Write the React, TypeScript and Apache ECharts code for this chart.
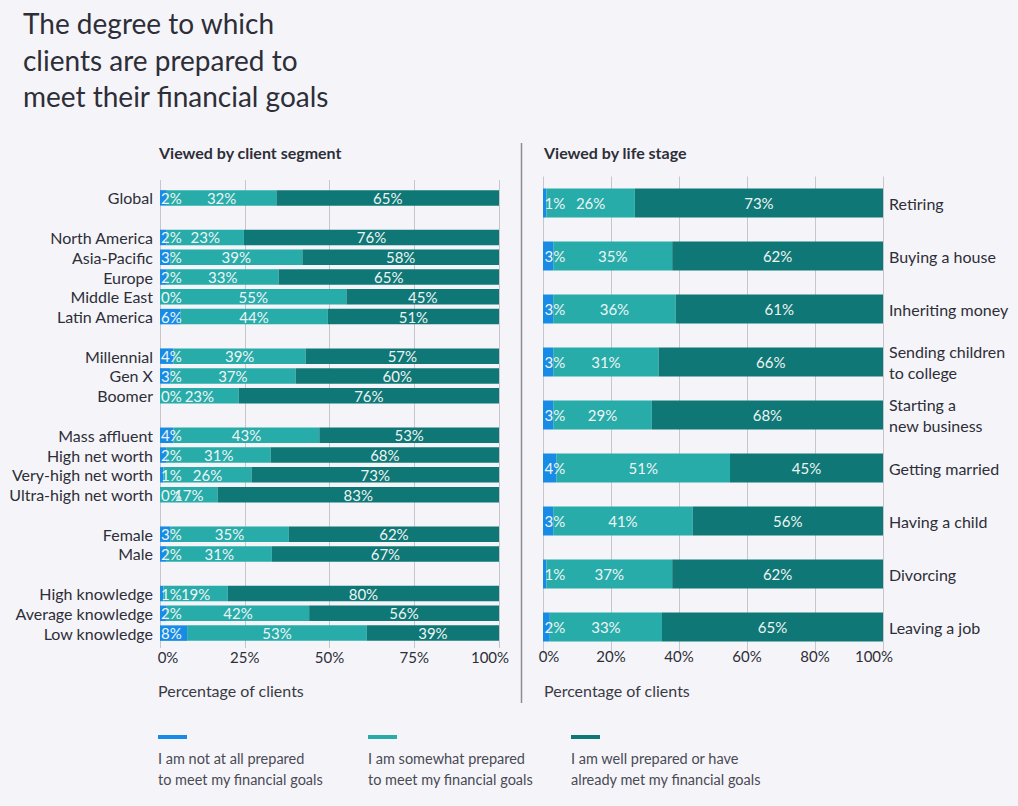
import React, { useEffect, useRef } from 'react';
import * as echarts from 'echarts';

// ---- Data ----
const segmentCategories = [
  'Global', ' ', 'North America', 'Asia-Pacific', 'Europe', 'Middle East', 'Latin America', '  ',
  'Millennial', 'Gen X', 'Boomer', '   ', 'Mass affluent', 'High net worth', 'Very-high net worth',
  'Ultra-high net worth', '    ', 'Female', 'Male', '     ', 'High knowledge', 'Average knowledge', 'Low knowledge',
];
const segmentNotPrepared = [2, null, 2, 3, 2, 0, 6, null, 4, 3, 0, null, 4, 2, 1, 0, null, 3, 2, null, 1, 2, 8];
const segmentSomewhat = [32, null, 23, 39, 33, 55, 44, null, 39, 37, 23, null, 43, 31, 26, 17, null, 35, 31, null, 19, 42, 53];
const segmentWell = [65, null, 76, 58, 65, 45, 51, null, 57, 60, 76, null, 53, 68, 73, 83, null, 62, 67, null, 80, 56, 39];

const lifeStages = [
  'Retiring', 'Buying a house', 'Inheriting money', 'Sending children\nto college', 'Starting a\nnew business',
  'Getting married', 'Having a child', 'Divorcing', 'Leaving a job',
];
const stageNotPrepared = [1, 3, 3, 3, 3, 4, 3, 1, 2];
const stageSomewhat = [26, 35, 36, 31, 29, 51, 41, 37, 33];
const stageWell = [73, 62, 61, 66, 68, 45, 56, 62, 65];

const seriesNames = [
  'I am not at all prepared\nto meet my financial goals',
  'I am somewhat prepared\nto meet my financial goals',
  'I am well prepared or have\nalready met my financial goals',
];
const colors = ['#188CE5', '#27ACAA', '#0F7775'];

const segmentTickInterval = 25;
const stageTickInterval = 20;

const FONT = 'Lato';
const DARK = '#2e2e38';
const GRID_COLOR = '#c6c6cc';

function buildStack(a: (number | null)[], b: (number | null)[], c: (number | null)[]) {
  const out: any[][] = [[], [], []];
  a.forEach((_, i) => {
    const vals = [a[i], b[i], c[i]];
    if (vals[0] == null) {
      out.forEach((o) => o.push('-'));
      return;
    }
    const total = (vals[0] as number) + (vals[1] as number) + (vals[2] as number);
    vals.forEach((v, k) => out[k].push({ value: ((v as number) / total) * 100, raw: v }));
  });
  return out;
}

const labelFormatter = (p: any) => (p.data && p.data.raw != null ? p.data.raw + '%' : '');

function makeSeries(stack: any[][], axisIdx: number, barWidth: number, stackName: string, firstDistance: number) {
  return stack.map((data, k) => ({
    type: 'bar',
    name: seriesNames[k],
    stack: stackName,
    xAxisIndex: axisIdx,
    yAxisIndex: axisIdx === 0 ? 0 : 1,
    barWidth,
    data,
    itemStyle: { color: colors[k] },
    label: {
      show: true,
      position: k === 0 ? 'insideLeft' : 'inside',
      distance: k === 0 ? firstDistance : 5,
      formatter: labelFormatter,
      color: '#eef4f4',
      fontFamily: FONT,
      fontSize: 15,
    },
    emphasis: { disabled: true },
  }));
}

function xLabel(firstPad: number, lastPad: number) {
  const base = { fontFamily: FONT, fontSize: 15, color: DARK };
  return {
    margin: 6,
    ...base,
    formatter: (v: number) => (v === 0 ? '{first|0%}' : v === 100 ? '{last|100%}' : '{n|' + v + '%}'),
    rich: {
      first: { ...base, padding: [0, 0, 0, firstPad] },
      last: { ...base, padding: [0, lastPad, 0, 0] },
      n: { ...base },
    },
  };
}

export default function App() {
  const ref = useRef<HTMLDivElement>(null);

  useEffect(() => {
    if (!ref.current) return;
    const chart = echarts.init(ref.current, null, { renderer: 'svg' });
    const segStack = buildStack(segmentNotPrepared, segmentSomewhat, segmentWell);
    const stageStack = buildStack(stageNotPrepared, stageSomewhat, stageWell);

    const textStyle = (t: string, font: string, fill: string, extra: any = {}) => ({
      text: t,
      font,
      fill,
      ...extra,
    });

    const option: any = {
      animation: false,
      backgroundColor: '#f5f5f9',
      grid: [
        { left: 160, top: 188, width: 339, height: 455 },
        { left: 543, top: 176.5, width: 340, height: 477 },
      ],
      xAxis: [
        {
          gridIndex: 0,
          type: 'value',
          min: 0,
          max: 100,
          interval: segmentTickInterval,
          axisLine: { show: false },
          axisTick: { show: true, length: 5, lineStyle: { color: GRID_COLOR } },
          splitLine: { show: true, lineStyle: { color: GRID_COLOR, width: 1 } },
          axisLabel: xLabel(16, 18),
        },
        {
          gridIndex: 1,
          type: 'value',
          min: 0,
          max: 100,
          interval: stageTickInterval,
          axisLine: { show: false },
          axisTick: { show: false },
          splitLine: { show: true, lineStyle: { color: GRID_COLOR, width: 1 } },
          axisLabel: { ...xLabel(12, 18), margin: -5 },
        },
        {
          gridIndex: 0,
          type: 'value',
          position: 'top',
          min: 0,
          max: 100,
          interval: segmentTickInterval,
          axisLine: { show: false },
          axisTick: { show: true, length: 8, lineStyle: { color: GRID_COLOR } },
          splitLine: { show: false },
          axisLabel: { show: false },
        },
      ],
      yAxis: [
        {
          gridIndex: 0,
          type: 'category',
          inverse: true,
          data: segmentCategories,
          axisLine: { show: false },
          axisTick: { show: false },
          axisLabel: { margin: 7, fontFamily: FONT, fontSize: 16, color: DARK, interval: 0 },
        },
        {
          gridIndex: 1,
          type: 'category',
          inverse: true,
          position: 'right',
          data: lifeStages,
          axisLine: { show: false },
          axisTick: { show: false },
          axisLabel: {
            margin: 6,
            align: 'left',
            fontFamily: FONT,
            fontSize: 16,
            lineHeight: 21,
            color: DARK,
            interval: 0,
          },
        },
      ],
      series: [
        ...makeSeries(segStack, 0, 15.5, 'seg', 1),
        ...makeSeries(stageStack, 1, 29, 'stage', 1.5),
      ],
      graphic: [
        {
          type: 'text',
          left: 23,
          top: 5,
          style: textStyle(
            'The degree to which\nclients are prepared to\nmeet their financial goals',
            `28px ${FONT}`,
            DARK,
            { lineHeight: 36.5 }
          ),
        },
        {
          type: 'text',
          x: 159,
          y: 152,
          style: textStyle('Viewed by client segment', `bold 16px ${FONT}`, DARK, { verticalAlign: 'middle' }),
        },
        {
          type: 'text',
          x: 544,
          y: 152,
          style: textStyle('Viewed by life stage', `bold 16px ${FONT}`, DARK, { verticalAlign: 'middle' }),
        },
        {
          type: 'line',
          shape: { x1: 521.5, y1: 143, x2: 521.5, y2: 703 },
          style: { stroke: '#8c8c94', lineWidth: 1.5 },
        },
        {
          type: 'text',
          x: 158,
          y: 690,
          style: textStyle('Percentage of clients', `16px ${FONT}`, '#3a3a44', { verticalAlign: 'middle' }),
        },
        {
          type: 'text',
          x: 544,
          y: 690,
          style: textStyle('Percentage of clients', `16px ${FONT}`, '#3a3a44', { verticalAlign: 'middle' }),
        },
        ...[158, 368, 571].flatMap((x, k) => [
          { type: 'rect', shape: { x, y: 735, width: 29, height: 4 }, style: { fill: colors[k] } },
          {
            type: 'text',
            x,
            y: 747.5,
            style: textStyle(seriesNames[k], `14.5px ${FONT}`, '#4a4a55', { lineHeight: 21 }),
          },
        ]),
      ],
    };
    chart.setOption(option);
    return () => chart.dispose();
  }, []);

  return <div ref={ref} style={{ position: 'fixed', left: 0, top: 0, width: 1018, height: 806 }} />;
}
